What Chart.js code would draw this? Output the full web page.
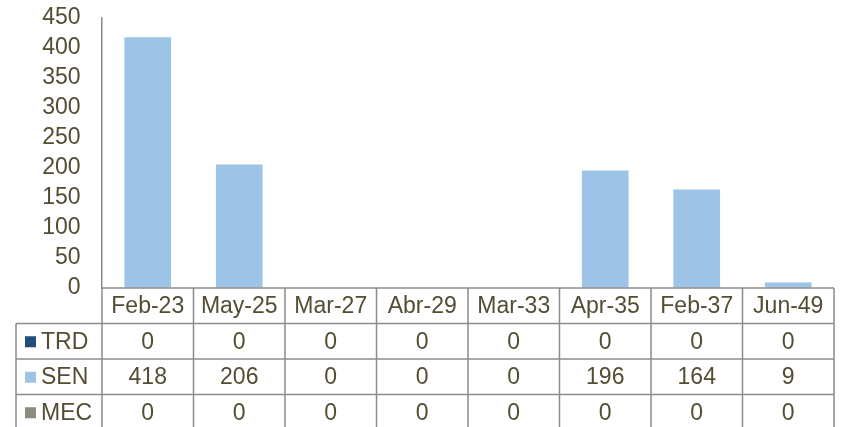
<!DOCTYPE html>
<html>
<head>
<meta charset="utf-8">
<script src="https://cdn.jsdelivr.net/npm/chart.js@4.4.1/dist/chart.umd.min.js"></script>
<style>
  html, body { margin: 0; padding: 0; background: #fff; }
  #wrap { width: 846px; height: 427px; }
</style>
</head>
<body>
<div id="wrap"><canvas id="mycanvas" width="846" height="427"></canvas></div>
<script>
var categories = ['Feb-23', 'May-25', 'Mar-27', 'Abr-29', 'Mar-33', 'Apr-35', 'Feb-37', 'Jun-49'];
var trdValues = [0, 0, 0, 0, 0, 0, 0, 0];
var senValues = [418, 206, 0, 0, 0, 196, 164, 9];
var mecValues = [0, 0, 0, 0, 0, 0, 0, 0];
var yTicks = [0, 50, 100, 150, 200, 250, 300, 350, 400, 450];

var textColor = '#534d33';
var lineColor = '#8c8c8c';
var font = '23px "Liberation Sans", Arial, sans-serif';

// draws the data table under the plot, aligned to the x scale
var dataTable = {
  id: 'dataTable',
  afterDraw: function(chart) {
    var ctx = chart.ctx;
    var area = chart.chartArea;
    var x = chart.scales.x;
    var n = categories.length;
    var colW = (area.right - area.left) / n;
    var rowH = 35.5;
    var top = area.bottom;
    var tableLeft = 16;
    var ds = chart.data.datasets;

    ctx.save();
    ctx.strokeStyle = lineColor;
    ctx.lineWidth = 1.5;
    ctx.beginPath();
    // horizontal lines
    ctx.moveTo(area.left, top); ctx.lineTo(area.right, top);
    for (var r = 1; r <= ds.length; r++) {
      ctx.moveTo(tableLeft, top + r * rowH); ctx.lineTo(area.right, top + r * rowH);
    }
    // vertical lines
    var bottom = top + (ds.length + 1) * rowH;
    ctx.moveTo(tableLeft, top + rowH); ctx.lineTo(tableLeft, bottom);
    for (var c = 0; c <= n; c++) {
      var lx = area.left + c * colW;
      ctx.moveTo(lx, top); ctx.lineTo(lx, bottom);
    }
    ctx.stroke();

    ctx.font = font;
    ctx.fillStyle = textColor;
    ctx.textAlign = 'center';
    ctx.textBaseline = 'middle';
    for (var i = 0; i < n; i++) {
      var cx = x.getPixelForValue(i);
      ctx.fillText(categories[i], cx, top + rowH / 2 + 1);
      for (var d = 0; d < ds.length; d++) {
        ctx.fillText(String(ds[d].data[i]), cx, top + (d + 1.5) * rowH + 1);
      }
    }
    ctx.textAlign = 'left';
    for (var d = 0; d < ds.length; d++) {
      var cy = top + (d + 1.5) * rowH;
      ctx.fillStyle = ds[d].backgroundColor;
      ctx.fillRect(25, cy - 5, 11, 11);
      ctx.fillStyle = textColor;
      ctx.fillText(ds[d].label, 41, cy + 1);
    }
    ctx.restore();
  }
};

var ctx = document.getElementById('mycanvas');
var barGraph = new Chart(ctx, {
  type: 'bar',
  data: {
    labels: categories,
    datasets: [
      { label: 'TRD', backgroundColor: '#1f4e79', data: trdValues },
      { label: 'SEN', backgroundColor: '#9dc3e6', data: senValues },
      { label: 'MEC', backgroundColor: '#8b8c7e', data: mecValues }
    ]
  },
  options: {
    responsive: false,
    animation: false,
    layout: { padding: { top: 1, right: 12, bottom: 139, left: 0 } },
    plugins: { legend: { display: false }, tooltip: { enabled: false } },
    datasets: { bar: { barPercentage: 1, categoryPercentage: 0.51, borderWidth: 0 } },
    scales: {
      x: { display: false, stacked: true },
      y: {
        stacked: true,
        min: 0,
        max: 450,
        afterFit: function(scale) { scale.width = 102; },
        afterBuildTicks: function(scale) {
          scale.ticks = yTicks.map(function(v) { return { value: v }; });
        },
        grid: {
          display: true,
          drawOnChartArea: false,
          drawTicks: true,
          tickLength: 15,
          tickColor: 'rgba(0,0,0,0)'
        },
        border: { display: true, color: lineColor, width: 1.5 },
        ticks: {
          autoSkip: false,
          color: textColor,
          font: { size: 23, family: '"Liberation Sans", Arial, sans-serif', lineHeight: 1 },
          padding: 6.5
        }
      }
    }
  },
  plugins: [dataTable]
});
</script>
</body>
</html>
